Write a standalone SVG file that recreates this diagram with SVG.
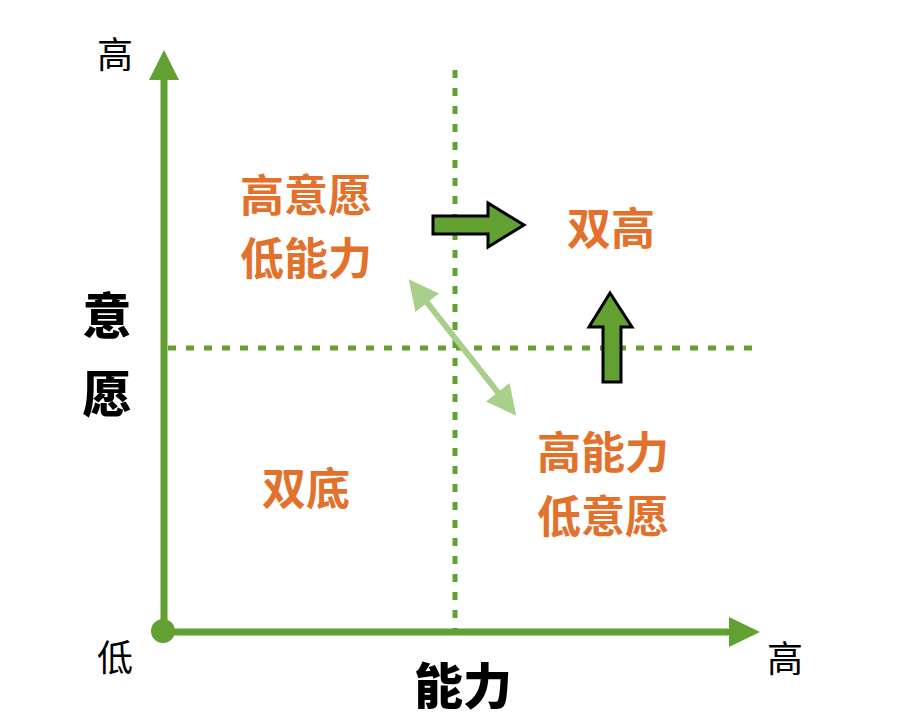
<svg xmlns="http://www.w3.org/2000/svg" width="897" height="721" viewBox="0 0 897 721">
<style>
.q{font-family:"Noto Sans CJK SC","Noto Sans CJK JP",sans-serif;font-weight:bold;font-size:44px;fill:#e2712c;text-anchor:middle}
.ax{font-family:"Noto Sans CJK SC",sans-serif;font-size:36px;fill:#000;text-anchor:middle}
.axb{font-family:"Noto Sans CJK SC",sans-serif;font-weight:900;font-size:49px;fill:#000;text-anchor:middle}
.dash{stroke:#62a032;stroke-width:5;stroke-dasharray:8 10;fill:none}
.blk{fill:#62a032;stroke:#000;stroke-width:3;stroke-linejoin:miter}
</style>
<defs>
<marker id="lg" viewBox="0 0 10 10" refX="5" refY="5" markerWidth="5" markerHeight="5" orient="auto-start-reverse" markerUnits="strokeWidth"><path d="M0,0 L10,5 L0,10 Z" fill="#a8d08b"/></marker>
</defs>
<rect width="897" height="721" fill="#fff"/>
<g id="grid">
<line class="dash" x1="455" y1="70" x2="455" y2="630"/>
<line class="dash" x1="168" y1="348" x2="752" y2="348"/>
</g>
<g id="axes">
<line x1="164" y1="632" x2="164" y2="76" stroke="#62a032" stroke-width="7"/>
<polygon points="164,50 149,80 179,80" fill="#62a032"/>
<line x1="164" y1="632" x2="732" y2="632" stroke="#62a032" stroke-width="7"/>
<polygon points="760,632 729,617 729,647" fill="#62a032"/>
<circle cx="163" cy="631" r="12" fill="#62a032"/>
</g>
<g id="connectors">
<polygon class="blk" points="433,216 488,216 488,203 524,225 488,247 488,234 433,234"/>
<polygon class="blk" points="603,382 603,327 589,327 610,293 632,327 621,327 621,382"/>
<line x1="418" y1="291" x2="507" y2="404" stroke="#a8d08b" stroke-width="6" marker-start="url(#lg)" marker-end="url(#lg)"/>
</g>
<g id="labels">
<text class="ax" x="115" y="68">高</text>
<text class="ax" x="115" y="671">低</text>
<text class="ax" x="785" y="672">高</text>
<text class="axb" x="107" y="334">意</text>
<text class="axb" x="107" y="412">愿</text>
<text class="axb" x="463" y="704">能力</text>
</g>
<g id="q1"><text class="q" x="306" y="212">高意愿</text><text class="q" x="306" y="275">低能力</text></g>
<g id="q2"><text class="q" x="611" y="245">双高</text></g>
<g id="q3"><text class="q" x="306" y="505">双底</text></g>
<g id="q4"><text class="q" x="603" y="469">高能力</text><text class="q" x="603" y="533">低意愿</text></g>
</svg>
